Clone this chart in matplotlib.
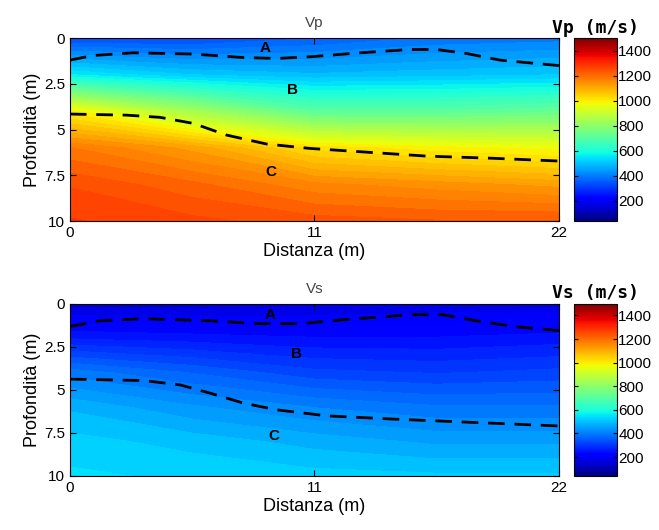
import matplotlib
matplotlib.use("Agg")
import matplotlib.pyplot as plt
import numpy as np

plt.rcParams['font.family'] = ['Liberation Sans', 'DejaVu Sans']

# grid of the sections
distance = [0, 5.5, 11, 16.5, 22]
depth = [0, 2, 4, 6, 8, 10]

vp = [[330, 330, 360, 390, 400],
      [560, 510, 490, 500, 510],
      [990, 840, 710, 710, 730],
      [1180, 1120, 1020, 990, 970],
      [1250, 1210, 1160, 1140, 1120],
      [1280, 1260, 1240, 1230, 1230]]

vs = [[150, 150, 160, 170, 170],
      [260, 250, 240, 240, 250],
      [400, 360, 320, 310, 320],
      [480, 440, 410, 390, 390],
      [520, 500, 475, 455, 455],
      [540, 530, 520, 515, 515]]

# layer boundaries (distance, depth)
ab_x_p = [0, 1.05, 2.85, 5.55, 7.8, 9.3, 10.8, 13.05, 15.3, 16.5, 17.85, 19.35, 22]
ab_z_p = [1.2, 0.95, 0.8, 0.87, 1.06, 1.11, 1.02, 0.8, 0.62, 0.62, 0.84, 1.2, 1.5]
bc_x_p = [0, 2.55, 4.05, 5.55, 7.05, 8.85, 10.8, 13.05, 16.05, 19.05, 22]
bc_z_p = [4.15, 4.21, 4.33, 4.66, 5.3, 5.79, 6.03, 6.21, 6.45, 6.57, 6.72]

ab_x_s = [0, 1.35, 3.3, 6.3, 8.55, 10.35, 12.3, 15.3, 16.8, 18.45, 20.25, 22]
ab_z_s = [1.32, 0.99, 0.87, 0.99, 1.16, 1.16, 0.93, 0.64, 0.64, 1.03, 1.36, 1.56]
bc_x_s = [0, 3.3, 4.95, 6.3, 7.8, 9.3, 11.55, 14.55, 18.3, 22]
bc_z_s = [4.38, 4.46, 4.71, 5.19, 5.77, 6.16, 6.51, 6.7, 6.9, 7.1]

labels = ['A', 'B', 'C']
lab_x_p = [8.8, 10.0, 9.05]
lab_z_p = [0.55, 2.85, 7.3]
lab_x_s = [9.0, 10.2, 9.2]
lab_z_s = [0.65, 2.9, 7.7]

vmin, vmax = 40, 1500
cbar_ticks = [200, 400, 600, 800, 1000, 1200, 1400]

fig = plt.figure(figsize=(6.59, 5.3), dpi=100)

panels = [
    ("Vp", vp, ab_x_p, ab_z_p, bc_x_p, bc_z_p, lab_x_p, lab_z_p,
     [0.106, 0.583, 0.742, 0.345], [0.871, 0.583, 0.065, 0.345]),
    ("Vs", vs, ab_x_s, ab_z_s, bc_x_s, bc_z_s, lab_x_s, lab_z_s,
     [0.106, 0.102, 0.742, 0.325], [0.871, 0.102, 0.065, 0.325]),
]

levels = np.linspace(vmin, vmax, 60)
for name, field, abx, abz, bcx, bcz, lx, lz, pos, cpos in panels:
    ax = fig.add_axes(pos)
    cf = ax.contourf(distance, depth, np.array(field), levels=levels,
                     cmap='jet', vmin=vmin, vmax=vmax)
    ax.plot(abx, abz, 'k--', lw=2, dashes=(6, 3.5))
    ax.plot(bcx, bcz, 'k--', lw=2, dashes=(6, 3.5))
    for t, x, z in zip(labels, lx, lz):
        ax.text(x, z, t, fontsize=11, fontweight='bold', ha='center', va='center')
    ax.set_xlim(0, 22)
    ax.set_ylim(10, 0)
    ax.set_xticks([0, 11, 22])
    ax.set_yticks([0, 2.5, 5, 7.5, 10])
    ax.set_yticklabels(['0', '2.5', '5', '7.5', '10'])
    ax.tick_params(direction='in', top=True, right=True, labelsize=11, length=4)
    ax.set_xlabel('Distanza (m)', fontsize=13, labelpad=2)
    ax.set_ylabel('Profondità (m)', fontsize=13, labelpad=2)
    ax.set_title(name, fontsize=11, color='#444444', pad=8)

    cax = fig.add_axes(cpos)
    sm = plt.cm.ScalarMappable(cmap='jet', norm=plt.Normalize(vmin, vmax))
    cb = fig.colorbar(sm, cax=cax, ticks=cbar_ticks)
    cb.ax.tick_params(direction='in', left=True, right=True, labelsize=11, length=3, pad=1)
    cb.outline.set_linewidth(0.8)
    cax.set_title(name + ' (m/s)', fontsize=13, fontweight='bold',
                  family='DejaVu Sans Mono', pad=4)

fig.savefig('out.png', dpi=100)
